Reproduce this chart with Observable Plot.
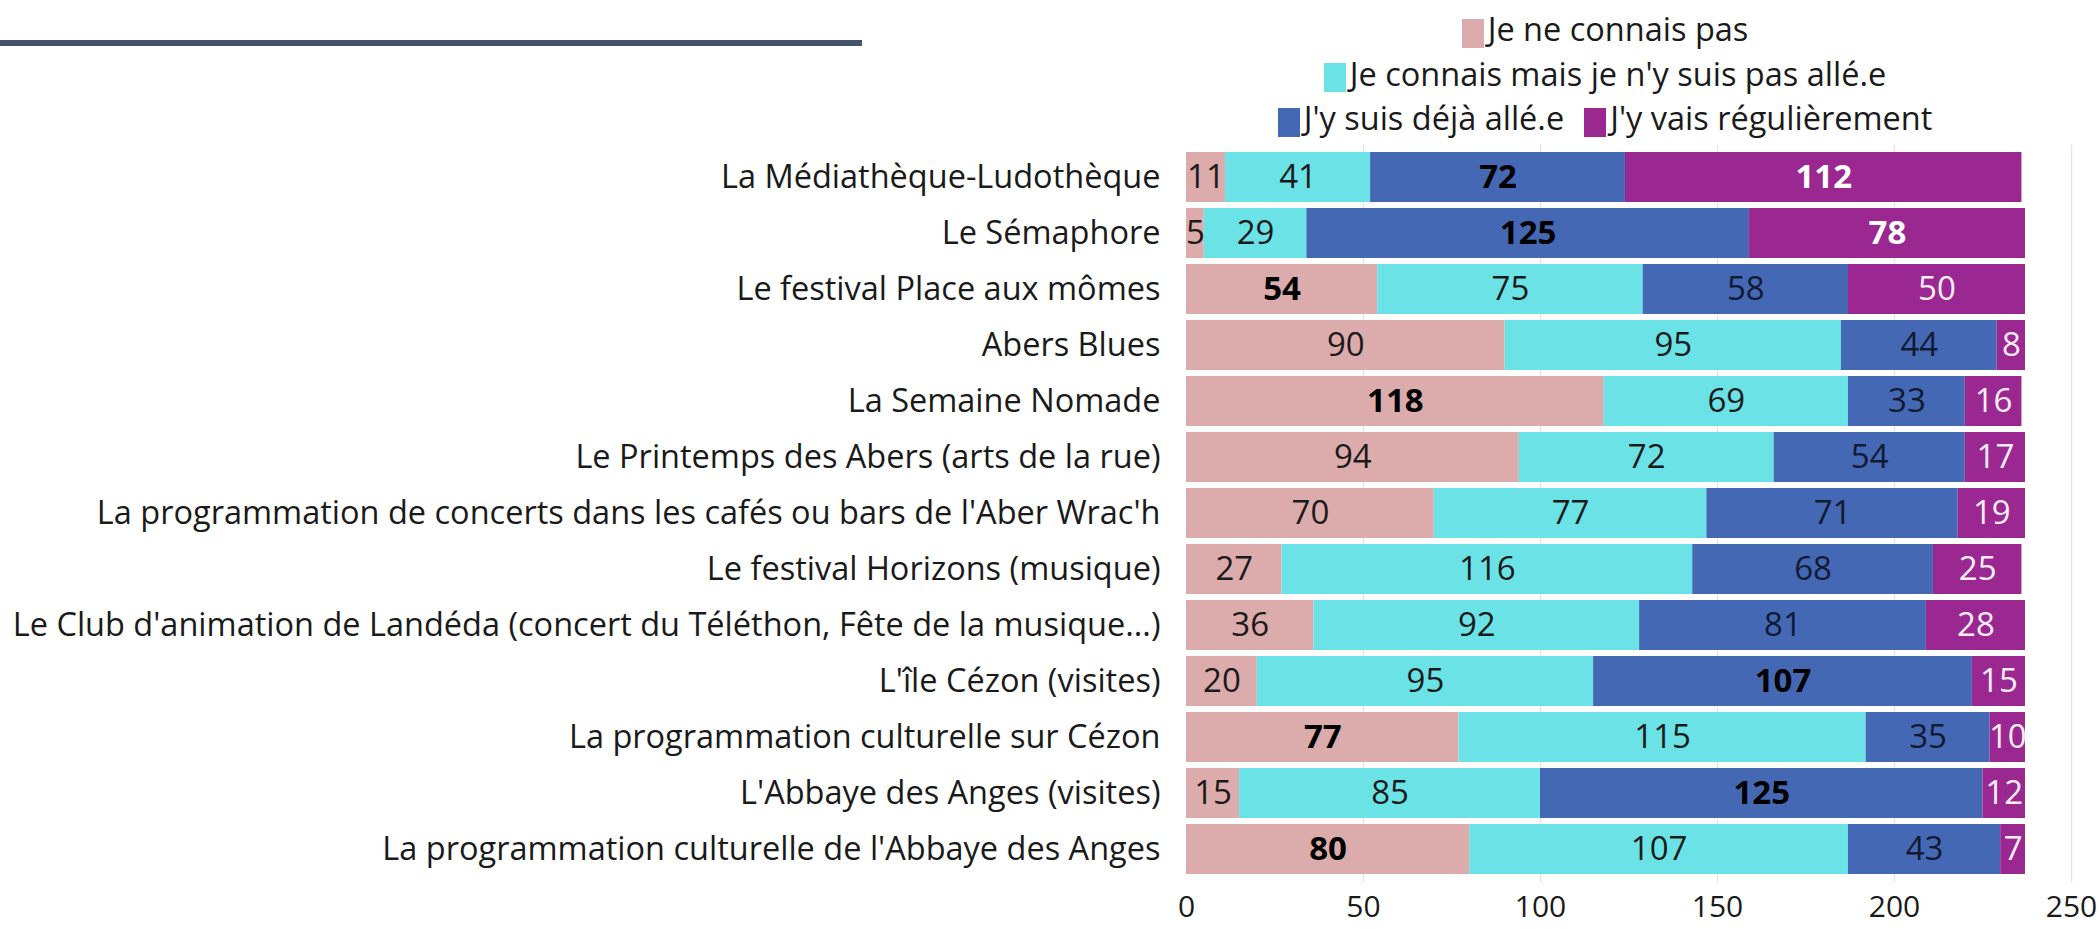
<!DOCTYPE html>
<html>
<head>
<meta charset="utf-8">
<script src="https://cdn.jsdelivr.net/npm/d3@7"></script>
<script src="https://cdn.jsdelivr.net/npm/@observablehq/plot@0.6"></script>
<style>
  html, body { margin: 0; padding: 0; background: #fff; }
  #wrap { position: relative; width: 2100px; height: 929px; font-family: "Open Sans", sans-serif; overflow: hidden; }
  #rule { position: absolute; left: 0; top: 40px; width: 862px; height: 6px; background: #44546a; }
  #legend { position: absolute; left: 1105px; top: 7px; width: 1000px; font-size: 32.5px; color: #1a1a1a; }
  .lrow { display: flex; justify-content: center; align-items: center; height: 44.5px; }
  .item { display: flex; align-items: center; margin: 0 10px; line-height: 1; }
  .sw { display: inline-block; width: 22px; height: 29px; margin-right: 4px; position: relative; top: 4px; }
  #chart { position: absolute; left: 0; top: 0; }
</style>
</head>
<body>
<div id="wrap">
  <div id="chart"></div>
  <div id="rule"></div>
  <div id="legend"></div>
</div>
<script>
const labels = [
  "La Médiathèque-Ludothèque",
  "Le Sémaphore",
  "Le festival Place aux mômes",
  "Abers Blues",
  "La Semaine Nomade",
  "Le Printemps des Abers (arts de la rue)",
  "La programmation de concerts dans les cafés ou bars de l'Aber Wrac'h",
  "Le festival Horizons (musique)",
  "Le Club d'animation de Landéda (concert du Téléthon, Fête de la musique...)",
  "L'île Cézon (visites)",
  "La programmation culturelle sur Cézon",
  "L'Abbaye des Anges (visites)",
  "La programmation culturelle de l'Abbaye des Anges"
];
const categories = [
  "Je ne connais pas",
  "Je connais mais je n'y suis pas allé.e",
  "J'y suis déjà allé.e",
  "J'y vais régulièrement"
];
const colors = ["#dcabab", "#6ae2e6", "#4468b4", "#9a2890"];
const textColors = ["#1a1a1a", "#1a1a1a", "#111a33", "#fbeefb"];

const neConnaisPas   = [11, 5, 54, 90, 118, 94, 70, 27, 36, 20, 77, 15, 80];
const connaisPasAlle = [41, 29, 75, 95, 69, 72, 77, 116, 92, 95, 115, 85, 107];
const dejaAlle       = [72, 125, 58, 44, 33, 54, 71, 68, 81, 107, 35, 125, 43];
const regulierement  = [112, 78, 50, 8, 16, 17, 19, 25, 28, 15, 10, 12, 7];
const series = [neConnaisPas, connaisPasAlle, dejaAlle, regulierement];

// which labels are bold (row index, series index)
const boldCells = [[0,2],[0,3],[1,2],[1,3],[2,0],[4,0],[9,2],[10,0],[11,2],[12,0]];

const xTicks = [0, 50, 100, 150, 200, 250];

// tidy table built from the arrays
const rows = [];
labels.forEach((lab, i) => {
  let acc = 0;
  series.forEach((s, k) => {
    const v = s[i];
    rows.push({
      label: lab, cat: categories[k], value: v,
      x1: acc, x2: acc + v, mid: acc + v / 2,
      tcolor: textColors[k],
      bold: boldCells.some(([r, c]) => r === i && c === k)
    });
    acc += v;
  });
});

const FONT = "Open Sans";
const chart = Plot.plot({
  width: 2100,
  height: 929,
  marginLeft: 1186,
  marginRight: 29,
  marginTop: 144.5,
  marginBottom: 46.5,
  style: { fontFamily: FONT, background: "transparent" },
  x: { domain: [0, 250], ticks: xTicks, label: null, tickSize: 0, tickPadding: 13 },
  y: { domain: labels, label: null, padding: 0.1, tickSize: 0, tickPadding: 26 },
  color: { domain: categories, range: colors },
  marks: [
    Plot.ruleX(xTicks.slice(1), { stroke: "#e6e6e6", strokeWidth: 1.5 }),
    Plot.barX(rows, { x1: "x1", x2: "x2", y: "label", fill: "cat" }),
    Plot.text(rows.filter(d => !d.bold), { x: "mid", y: "label", text: d => String(d.value), fill: "tcolor", fontSize: 33, fontWeight: 400 }),
    Plot.text(rows.filter(d => d.bold), { x: "mid", y: "label", text: d => String(d.value), fill: d => d.tcolor === "#fbeefb" ? "#ffffff" : "#000000", fontSize: 33, fontWeight: 700 }),
    Plot.axisY({ tickSize: 0, tickPadding: 26, fontSize: 32.5, label: null, fill: "#1a1a1a" }),
    Plot.axisX({ ticks: xTicks, tickSize: 0, tickPadding: 13, fontSize: 30, label: null, fill: "#1a1a1a" })
  ]
});
chart.querySelectorAll("text").forEach(t => t.style.fontFamily = FONT);
document.getElementById("chart").appendChild(chart);

// legend
const legend = document.getElementById("legend");
const lines = [[0], [1], [2, 3]];
lines.forEach(line => {
  const row = document.createElement("div");
  row.className = "lrow";
  line.forEach(k => {
    const it = document.createElement("span");
    it.className = "item";
    const sw = document.createElement("span");
    sw.className = "sw";
    sw.style.background = colors[k];
    const tx = document.createElement("span");
    tx.textContent = categories[k];
    it.appendChild(sw);
    it.appendChild(tx);
    row.appendChild(it);
  });
  legend.appendChild(row);
});
</script>
</body>
</html>
